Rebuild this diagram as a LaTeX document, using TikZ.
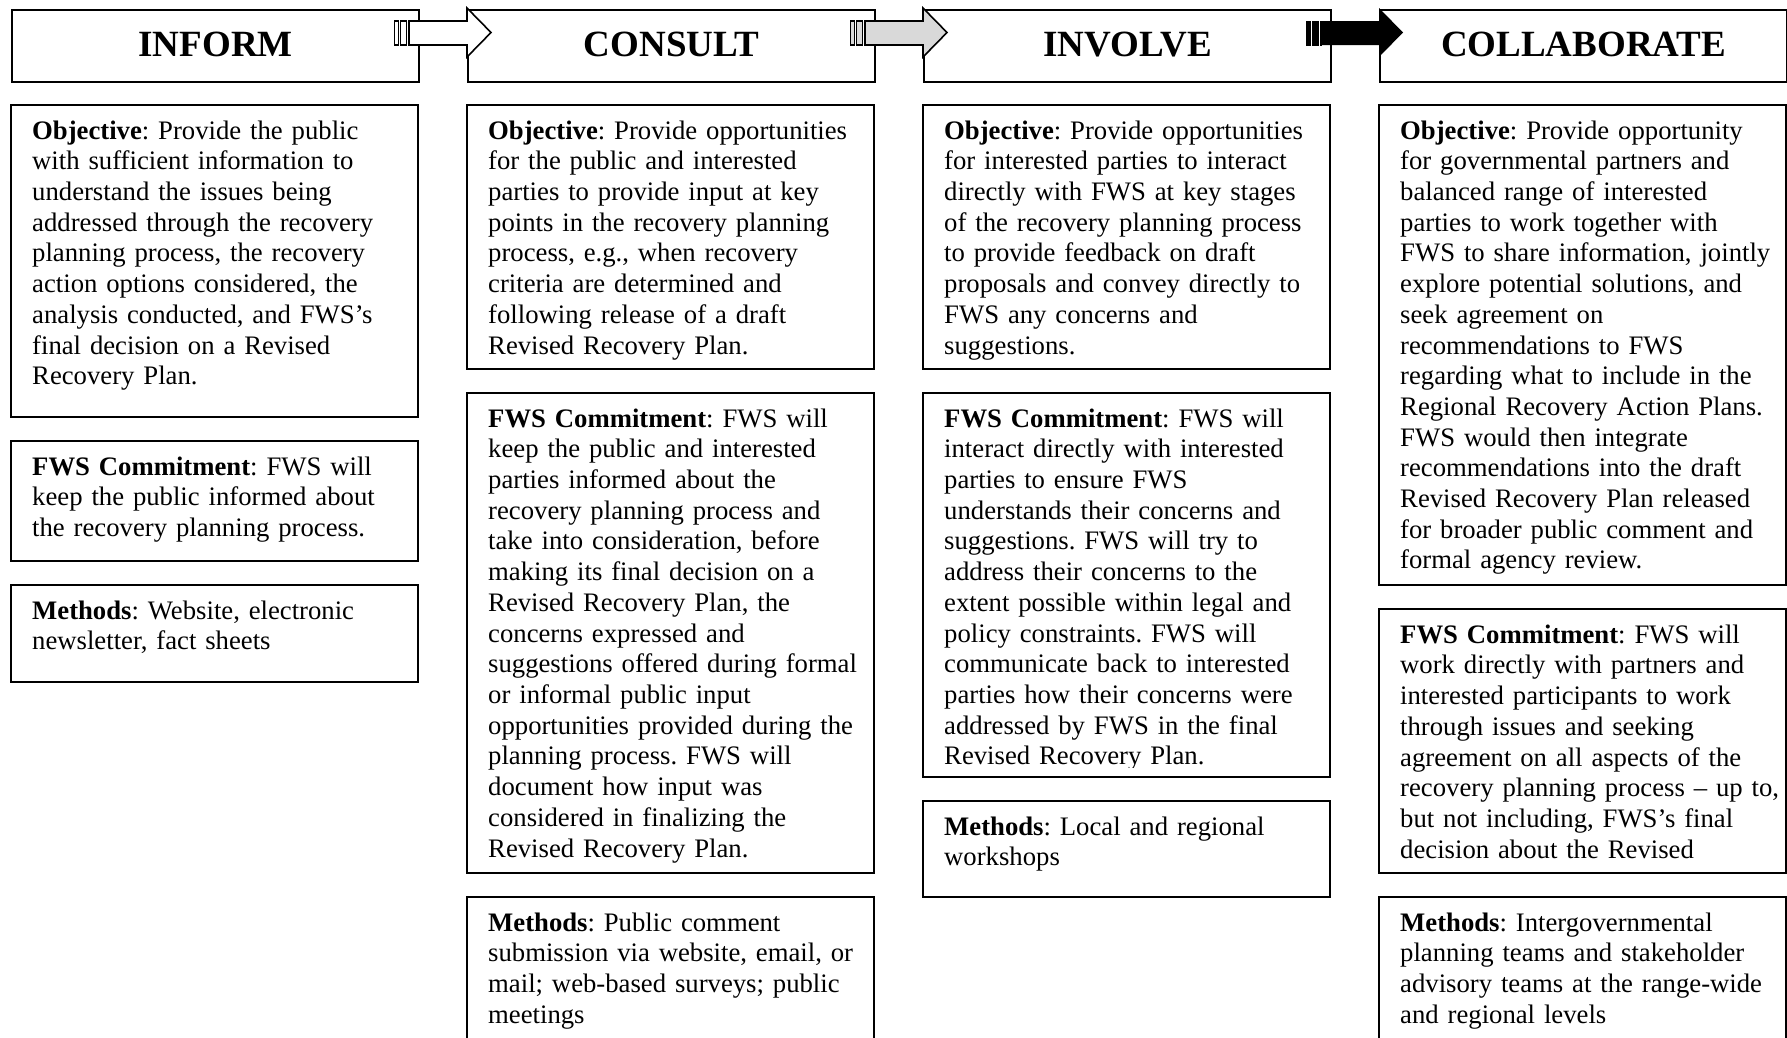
\documentclass[tikz,border=0pt]{standalone}
\usepackage{fontspec}
\setmainfont{Liberation Serif}
\frenchspacing
\definecolor{arrgray}{RGB}{217,217,217}
\tikzset{
  hdr/.style={draw, line width=2.2pt, minimum width=407pt, minimum height=72pt,
    inner sep=0pt, anchor=north west, font=\fontsize{37}{42}\selectfont\bfseries},
  boxframe/.style={draw, line width=2.2pt},
  boxtext/.style={anchor=north west, inner sep=0pt, text width=400pt, align=left,
    font=\fontsize{26.7}{30.7}\selectfont\frenchspacing},
  arrowline/.style={line width=1.6pt, draw=black},
}
\newcommand\tbox[5]{%
  \begin{scope}
    \clip (#2,#3) rectangle ({#2+407},{#4-10});
    \node[boxtext] (#1) at ({#2+21},{#3+12.5}) {\strut #5};
  \end{scope}
  \draw[boxframe] (#2,#3) rectangle ({#2+407},#4);
}
\newcommand\outlinearrow[2]{%
  \draw[arrowline, fill=#2] ({409+#1},21) -- ({467+#1},21) -- ({467+#1},8) -- ({491+#1},32.5)
     -- ({467+#1},57) -- ({467+#1},45) -- ({409+#1},45) -- cycle;
  \draw[arrowline, line width=1.3pt, fill=#2] ({394.5+#1},21) rectangle ({398.5+#1},45);
  \draw[arrowline, line width=1.3pt, fill=#2] ({400.8+#1},21) rectangle ({406.8+#1},45);
}
\begin{document}
\begin{tikzpicture}[x=1pt,y=-1pt]
\useasboundingbox (0,0) rectangle (1787,1037);
\clip (0,0) rectangle (1787,1037);
\fill[white] (0,0) rectangle (1787,1037);

% headers
\node[hdr] (h1) at (11,9) {\raisebox{3.5pt}{INFORM}};
\node[hdr] (h2) at (467,9) {\raisebox{3.5pt}{CONSULT}};
\node[hdr] (h3) at (923,9) {\raisebox{3.5pt}{INVOLVE}};
\node[hdr] (h4) at (1379,9) {\raisebox{3.5pt}{COLLABORATE}};

% arrows
\outlinearrow{0}{white}
\outlinearrow{456}{arrgray}
\fill[black] (1321,21) -- (1379,21) -- (1379,8) -- (1403,32.5) -- (1379,57) -- (1379,45) -- (1321,45) -- cycle;
\fill[black] (1305.5,20.5) rectangle (1310.6,45.5);
\fill[black] (1312,20.5) rectangle (1319.4,45.5);
\fill[black] (1320.4,20.5) rectangle (1322,45.5);

% column 1
\tbox{c1o}{11}{105}{417}{{\bfseries Objective}: Provide the public\\
with sufficient information to\\
understand the issues being\\
addressed through the recovery\\
planning process, the recovery\\
action options considered, the\\
analysis conducted, and FWS’s\\
final decision on a Revised\\
Recovery Plan.}
\tbox{c1f}{11}{441}{561}{{\bfseries FWS Commitment}: FWS will\\
keep the public informed about\\
the recovery planning process.}
\tbox{c1m}{11}{585}{682}{{\bfseries Methods}: Website, electronic\\
newsletter, fact sheets}

% column 2
\tbox{c2o}{467}{105}{369}{{\bfseries Objective}: Provide opportunities\\
for the public and interested\\
parties to provide input at key\\
points in the recovery planning\\
process, e.g., when recovery\\
criteria are determined and\\
following release of a draft\\
Revised Recovery Plan.}
\tbox{c2f}{467}{393}{873}{{\bfseries FWS Commitment}: FWS will\\
keep the public and interested\\
parties informed about the\\
recovery planning process and\\
take into consideration, before\\
making its final decision on a\\
Revised Recovery Plan, the\\
concerns expressed and\\
suggestions offered during formal\\
or informal public input\\
opportunities provided during the\\
planning process. FWS will\\
document how input was\\
considered in finalizing the\\
Revised Recovery Plan.}
\tbox{c2m}{467}{897}{1060}{{\bfseries Methods}: Public comment\\
submission via website, email, or\\
mail; web-based surveys; public\\
meetings}

% column 3
\tbox{c3o}{923}{105}{369}{{\bfseries Objective}: Provide opportunities\\
for interested parties to interact\\
directly with FWS at key stages\\
of the recovery planning process\\
to provide feedback on draft\\
proposals and convey directly to\\
FWS any concerns and\\
suggestions.}
\tbox{c3f}{923}{393}{777}{{\bfseries FWS Commitment}: FWS will\\
interact directly with interested\\
parties to ensure FWS\\
understands their concerns and\\
suggestions. FWS will try to\\
address their concerns to the\\
extent possible within legal and\\
policy constraints. FWS will\\
communicate back to interested\\
parties how their concerns were\\
addressed by FWS in the final\\
Revised Recovery Plan.}
\tbox{c3m}{923}{801}{897}{{\bfseries Methods}: Local and regional\\
workshops}

% column 4
\tbox{c4o}{1379}{105}{585}{{\bfseries Objective}: Provide opportunity\\
for governmental partners and\\
balanced range of interested\\
parties to work together with\\
FWS to share information, jointly\\
explore potential solutions, and\\
seek agreement on\\
recommendations to FWS\\
regarding what to include in the\\
Regional Recovery Action Plans.\\
FWS would then integrate\\
recommendations into the draft\\
Revised Recovery Plan released\\
for broader public comment and\\
formal agency review.}
\tbox{c4f}{1379}{609}{873}{{\bfseries FWS Commitment}: FWS will\\
work directly with partners and\\
interested participants to work\\
through issues and seeking\\
agreement on all aspects of the\\
recovery planning process – up to,\\
but not including, FWS’s final\\
decision about the Revised}
\tbox{c4m}{1379}{897}{1060}{{\bfseries Methods}: Intergovernmental\\
planning teams and stakeholder\\
advisory teams at the range-wide\\
and regional levels}
\end{tikzpicture}
\end{document}
